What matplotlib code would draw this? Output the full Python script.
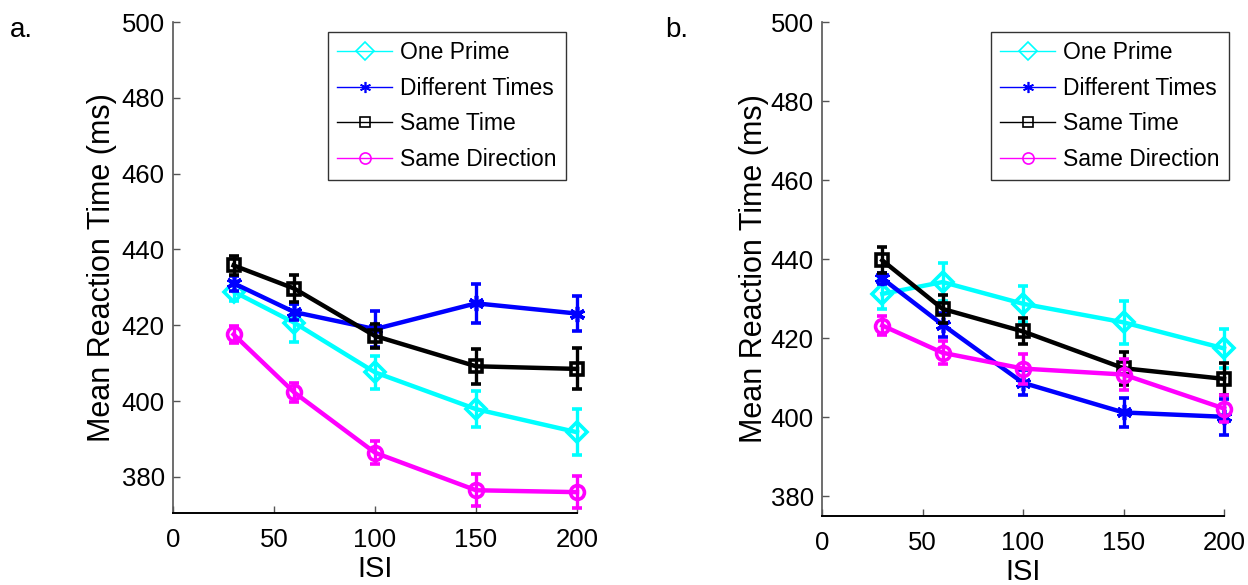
import matplotlib
matplotlib.use("Agg")
import matplotlib.pyplot as plt
from matplotlib.lines import Line2D
import numpy as np

isi = [30, 60, 100, 150, 200]
series_names = ["One Prime", "Different Times", "Same Time", "Same Direction"]

# Panel a
a_one_prime = [428.9, 420.7, 407.6, 397.9, 391.8]
a_diff_times = [431.1, 423.5, 419.0, 425.8, 423.1]
a_same_time = [435.8, 429.7, 417.2, 409.2, 408.5]
a_same_dir = [417.6, 402.3, 386.4, 376.5, 376.0]
a_one_prime_err = [2.5, 5.0, 4.3, 4.7, 6.0]
a_diff_times_err = [2.0, 2.0, 4.8, 5.1, 4.6]
a_same_time_err = [2.5, 3.6, 3.1, 4.6, 5.4]
a_same_dir_err = [2.3, 2.6, 3.1, 4.2, 4.2]

# Panel b
b_one_prime = [431.2, 434.2, 428.7, 424.0, 417.4]
b_diff_times = [435.1, 423.4, 408.7, 401.2, 400.1]
b_same_time = [439.7, 427.4, 421.7, 412.4, 409.7]
b_same_dir = [423.2, 416.3, 412.3, 410.8, 402.2]
b_one_prime_err = [3.8, 4.9, 4.5, 5.5, 5.0]
b_diff_times_err = [1.5, 3.0, 3.2, 3.6, 4.6]
b_same_time_err = [3.3, 3.5, 3.3, 4.2, 4.0]
b_same_dir_err = [2.3, 2.9, 3.8, 4.0, 3.3]

colors = ["#00FFFF", "#0000FF", "#000000", "#FF00FF"]
markers = ["D", (6, 2, 0), "s", "o"]
msizes = [10, 11, 9, 10]
leg_msizes = [9, 8, 7, 8]

reg_font = ["Liberation Sans", "DejaVu Sans"]

fig = plt.figure(figsize=(12.48, 5.85), dpi=100)

def make_panel(rect, ylim, data, errs, leg_anchor, ylabel_x, letter, letter_x):
    ax = fig.add_axes(rect)
    for i, (vals, err) in enumerate(zip(data, errs)):
        ax.errorbar(isi, vals, yerr=err, color=colors[i], lw=3.2,
                    elinewidth=2.4, capsize=3.5, capthick=2.4,
                    marker=markers[i], ms=msizes[i], mfc="none" if i in (0, 2, 3) else colors[i],
                    mec=colors[i], mew=2.6, clip_on=False, zorder=3 + i)
    ax.set_xlim(0, 200)
    ax.set_ylim(*ylim)
    ax.set_xticks([0, 50, 100, 150, 200])
    ax.set_yticks([380, 400, 420, 440, 460, 480, 500])
    for s in ("top", "right"):
        ax.spines[s].set_visible(False)
    ax.spines["left"].set_color("#555555")
    ax.spines["left"].set_linewidth(1.2)
    ax.spines["bottom"].set_color("#000000")
    ax.spines["bottom"].set_linewidth(1.4)
    ax.tick_params(axis="both", direction="in", length=5, width=1, colors="#555555",
                   labelcolor="black")
    ax.tick_params(axis="y", pad=6)
    ax.tick_params(axis="x", pad=11)
    for lab in ax.get_xticklabels() + ax.get_yticklabels():
        lab.set_family(reg_font)
        lab.set_fontsize(18.5)
    ax.set_xlabel("ISI", family=reg_font, fontsize=21, labelpad=2)
    fig.text(ylabel_x, rect[1] + rect[3] * 0.5, "Mean Reaction Time (ms)", rotation=90,
             family=reg_font, fontsize=22, ha="center", va="center")
    fig.text(letter_x, 1 - 30 / 585, letter, family=reg_font, fontsize=20,
             ha="left", va="center")
    handles = [Line2D([], [], color=colors[i], lw=1, marker=markers[i], ms=leg_msizes[i],
                      mfc="none", mec=colors[i], mew=1.2) for i in range(4)]
    leg = ax.legend(handles, series_names, loc="upper left",
                    bbox_to_anchor=leg_anchor, bbox_transform=fig.transFigure,
                    prop={"family": reg_font, "size": 16.5}, frameon=True,
                    fancybox=False, edgecolor="black", handlelength=2.4,
                    handletextpad=0.35, labelspacing=0.55, borderpad=0.4,
                    borderaxespad=0)
    leg.get_frame().set_linewidth(1.0)
    return ax

make_panel([173 / 1248, 1 - 513 / 585, 404 / 1248, 491 / 585], (370.5, 500),
           [a_one_prime, a_diff_times, a_same_time, a_same_dir],
           [a_one_prime_err, a_diff_times_err, a_same_time_err, a_same_dir_err],
           (328 / 1248, 1 - 32 / 585), 102 / 1248, "a.", 10 / 1248)
make_panel([822 / 1248, 1 - 516 / 585, 402 / 1248, 494 / 585], (375, 500),
           [b_one_prime, b_diff_times, b_same_time, b_same_dir],
           [b_one_prime_err, b_diff_times_err, b_same_time_err, b_same_dir_err],
           (991 / 1248, 1 - 32 / 585), 754 / 1248, "b.", 665 / 1248)

fig.savefig("out.png", dpi=100)
